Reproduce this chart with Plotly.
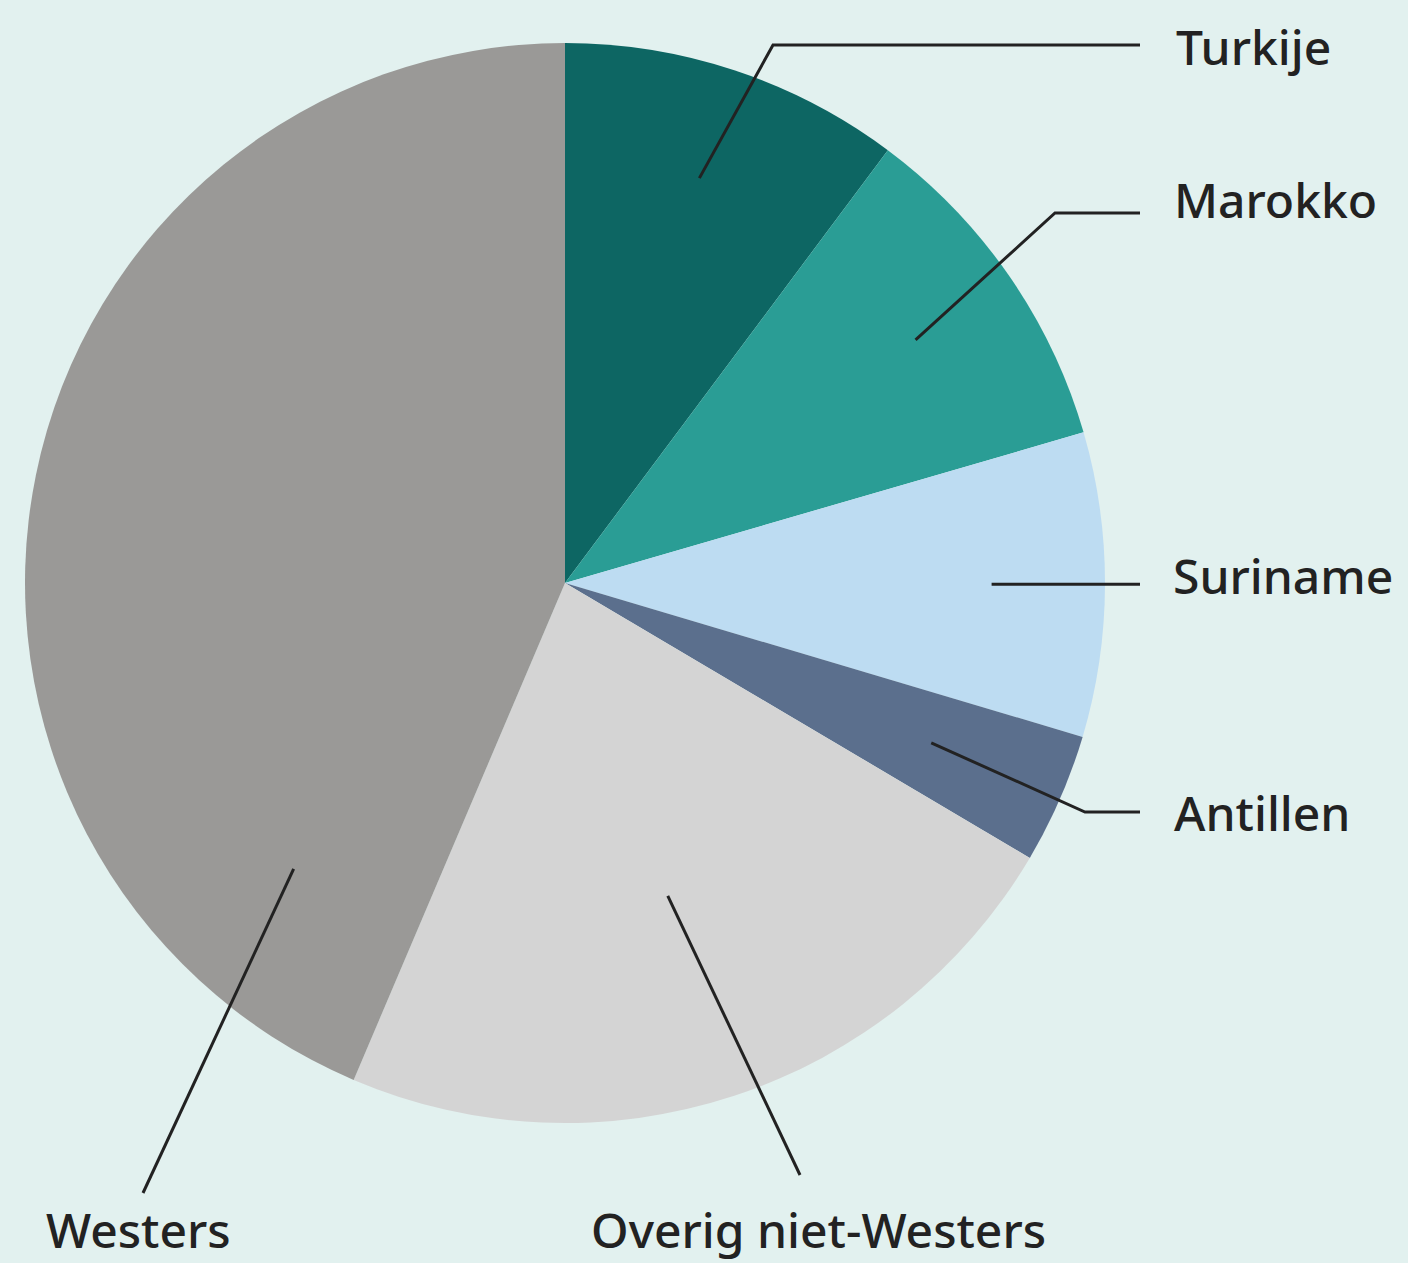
import math
import plotly.graph_objects as go

# ---- data ----
categories = ["Turkije", "Marokko", "Suriname", "Antillen", "Overig niet-Westers", "Westers"]
values = [10.2, 10.3, 9.1, 3.9, 22.9, 43.6]
colors = ["#0d6663", "#2a9d95", "#bddcf2", "#5b6f8d", "#d4d4d4", "#9a9997"]

# ---- layout constants (pixels) ----
W, H = 1408, 1263
CX, CY, R = 565, 583, 540
BG = "#e2f1ef"
INK = "#222222"

# leader-line anchor radius (fraction of R); angle override for Westers
anchor_frac = [0.79, 0.79, 0.79, 0.74, 0.61, 0.73]
anchor_angle_override = {5: 223.5}
# elbow / end points of the leader lines, label positions (pixels)
elbows = [[(773, 45), (1140, 45)],
          [(1055, 213), (1140, 213)],
          [(1140, None)],
          [(1085, 812), (1140, 812)],
          [(800, 1175)],
          [(143, 1193)]]
label_pos = [(1174, 47, "left"), (1172, 200, "left"), (1171, 575, "left"),
             (1172, 812, "left"), (818, 1229, "center"), (138, 1229, "center")]


def px(x):
    return x / W


def py(y):
    return 1 - y / H


fig = go.Figure(go.Pie(
    labels=categories,
    values=values,
    marker=dict(colors=colors, line=dict(width=0)),
    sort=False,
    direction="clockwise",
    rotation=0,
    textinfo="none",
    hoverinfo="label+value",
    showlegend=False,
    domain=dict(x=[px(CX - R), px(CX + R)], y=[py(CY + R), py(CY - R)]),
))

total = sum(values)
cum = 0.0
shapes = []
annotations = []
for i, v in enumerate(values):
    mid = (cum + v / 2) / total * 360
    cum += v
    ang = anchor_angle_override.get(i, mid)
    a = math.radians(ang)
    ax = CX + anchor_frac[i] * R * math.sin(a)
    ay = CY - anchor_frac[i] * R * math.cos(a)
    pts = [(ax, ay)]
    for (ex, ey) in elbows[i]:
        pts.append((ex, ay if ey is None else ey))
    path = "M " + " L ".join(f"{px(x):.5f},{py(y):.5f}" for x, y in pts)
    shapes.append(dict(type="path", xref="paper", yref="paper", path=path,
                       line=dict(color=INK, width=3)))
    lx, ly, anchor = label_pos[i]
    annotations.append(dict(x=px(lx), y=py(ly), xref="paper", yref="paper",
                            text=categories[i], showarrow=False,
                            xanchor=anchor, yanchor="middle",
                            font=dict(family="Noto Sans", size=48, color=INK,
                                      weight=500)))

fig.update_layout(
    width=W, height=H,
    margin=dict(l=0, r=0, t=0, b=0),
    paper_bgcolor=BG, plot_bgcolor=BG,
    shapes=shapes, annotations=annotations,
)

fig.write_html("out.html",
               config={"displayModeBar": False},
               post_script="document.body.style.margin='0';"
                           "document.body.style.overflow='hidden';")
